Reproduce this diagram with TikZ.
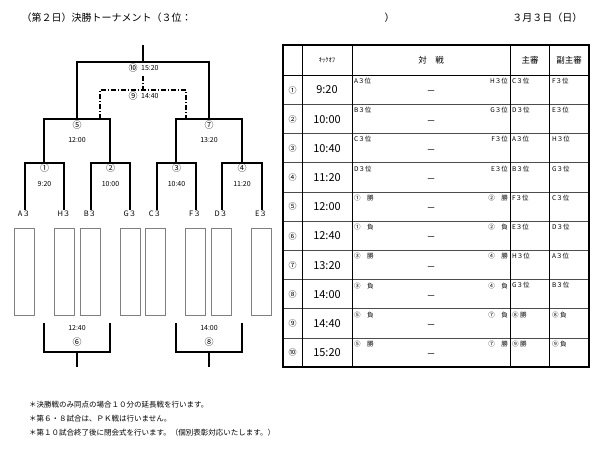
\documentclass[tikz,border=0pt]{standalone}
\usepackage{fontspec}
\setmainfont{Noto Sans CJK JP}
\tikzset{every picture/.style={line width=0.75pt}}
\tikzset{
  bline/.style={line width=1.5pt},
  dline/.style={line width=1.5pt, dash pattern={on 5pt off 2pt on 1pt off 2pt}},
  tlab/.style={font=\fontsize{7}{8}\selectfont, inner sep=0.75pt},
  clab/.style={font=\fontsize{9}{10}\selectfont, inner sep=0.75pt},
  team/.style={font=\fontsize{7.5}{8}\selectfont, inner sep=0.75pt},
  cell/.style={font=\fontsize{6.5}{7}\selectfont, inner sep=0.75pt, anchor=north west},
  cellr/.style={font=\fontsize{6.5}{7}\selectfont, inner sep=0.75pt, anchor=north east},
  note/.style={font=\fontsize{7.5}{9}\selectfont, anchor=west, inner sep=0.75pt}
}
\begin{document}
\begin{tikzpicture}[x=1pt,y=1pt,yscale=-1,xscale=1]
\useasboundingbox (0,0) rectangle (600,450);

% Title
\node (title) [anchor=west, font=\fontsize{10}{12}\selectfont] at (18,18) {（第２日）決勝トーナメント（３位：\hspace{19.3em}）};
\node (date) [anchor=east, font=\fontsize{10}{12}\selectfont] at (586,18) {３月３日（日）};

% Final and 3rd place
\draw [bline] (143,45) -- (143,62);
\draw [bline] (77,119) -- (77,62) -- (209,62) -- (209,119);
\node (m10) [clab] at (133,68) {⑩};
\node (t10) [tlab, anchor=west] at (140,68) {15:20};
\draw [dline] (143,76) -- (143,90);
\draw [dline] (100,119) -- (100,90) -- (186,90) -- (186,119);
\node (m9) [clab] at (133,96) {⑨};
\node (t9) [tlab, anchor=west] at (140,96) {14:40};

% Semi finals
\draw [bline] (44,163) -- (44,119) -- (110,119) -- (110,163);
\draw [bline] (176,163) -- (176,119) -- (242,119) -- (242,163);
\node (m5) [clab] at (77,125) {⑤};
\node (t5) [tlab] at (77,140) {12:00};
\node (m7) [clab] at (209,125) {⑦};
\node (t7) [tlab] at (209,140) {13:20};

% First round
\foreach \l/\r/\n/\t in {25/64/①/9:20, 91/130/②/10:00, 157/196/③/10:40, 222/262/④/11:20}{
  \draw [bline] (\l,210) -- (\l,163) -- (\r,163) -- (\r,210);
  \node [clab] at ({(\l+\r)/2},168) {\n};
  \node [tlab] at ({(\l+\r)/2},184) {\t};
}

% Teams and boxes
\foreach \x/\tm in {24/A３, 64/H３, 90/B３, 130/G３, 155/C３, 195/F３, 221/D３, 261/E３}{
  \node [team] at (\x,214) {\tm};
  \draw [line width=0.5pt, draw=gray] (\x-10,228) rectangle (\x+10,315);
}

% Bottom brackets
\draw [bline] (44,323) -- (44,352) -- (110,352) -- (110,323);
\draw [bline] (77,352) -- (77,367);
\node (t6) [tlab] at (77,328) {12:40};
\node (m6) [clab] at (77,342) {⑥};
\draw [bline] (176,323) -- (176,352) -- (242,352) -- (242,323);
\draw [bline] (209,352) -- (209,367);
\node (t8) [tlab] at (209,328) {14:00};
\node (m8) [clab] at (209,342) {⑧};

% Table
\draw [line width=0.5pt] (283,75) -- (589,75);
\foreach \i in {1,...,9}{
  \draw [line width=0.6pt, draw=black!70] (283,{75+29.2*\i}) -- (589,{75+29.2*\i});
}
\foreach \x in {302,352,510,549}{
  \draw [line width=0.6pt] (\x,45) -- (\x,367);
}
\draw [line width=1.5pt] (283,45) rectangle (589,367);
\node (hko) [font=\fontsize{6.5}{7}\selectfont] at (327,60) {ｷｯｸｵﾌ};
\node (hvs) [font=\fontsize{8.5}{9}\selectfont] at (431,60) {対\hspace{1em}戦};
\node (hs) [font=\fontsize{8.5}{9}\selectfont] at (530,60) {主審};
\node (hf) [font=\fontsize{8.5}{9}\selectfont] at (569,60) {副主審};
\foreach \i/\n/\t/\a/\b/\c/\d in {
  0/①/9:20/A３位/H３位/C３位/F３位,
  1/②/10:00/B３位/G３位/D３位/E３位,
  2/③/10:40/C３位/F３位/A３位/H３位,
  3/④/11:20/D３位/E３位/B３位/G３位,
  4/⑤/12:00/①\quad 勝/②\quad 勝/F３位/C３位,
  5/⑥/12:40/①\quad 負/②\quad 負/E３位/D３位,
  6/⑦/13:20/③\quad 勝/④\quad 勝/H３位/A３位,
  7/⑧/14:00/③\quad 負/④\quad 負/G３位/B３位,
  8/⑨/14:40/⑤\quad 負/⑦\quad 負/⑧ 勝/⑧ 負,
  9/⑩/15:20/⑤\quad 勝/⑦\quad 勝/⑨ 勝/⑨ 負}{
  \pgfmathsetmacro{\ytop}{75+29.2*\i}
  \node [font=\fontsize{8}{9}\selectfont] at (292.5,\ytop+15) {\n};
  \node [font=\fontsize{11}{12}\selectfont] at (327,\ytop+15) {\t};
  \node [cell] at (353,\ytop+2) {\a};
  \node [cellr] at (509,\ytop+2) {\b};
  \node [font=\fontsize{9}{9}\selectfont] at (431,\ytop+18) {－};
  \node [cell] at (511,\ytop+2) {\c};
  \node [cell] at (551,\ytop+2) {\d};
}

% Notes
\node (n1) [note] at (28,405) {＊決勝戦のみ同点の場合１０分の延長戦を行います。};
\node (n2) [note] at (28,419) {＊第６・８試合は、ＰＫ戦は行いません。};
\node (n3) [note] at (28,433) {＊第１０試合終了後に閉会式を行います。（個別表彰対応いたします。）};

\end{tikzpicture}
\end{document}
